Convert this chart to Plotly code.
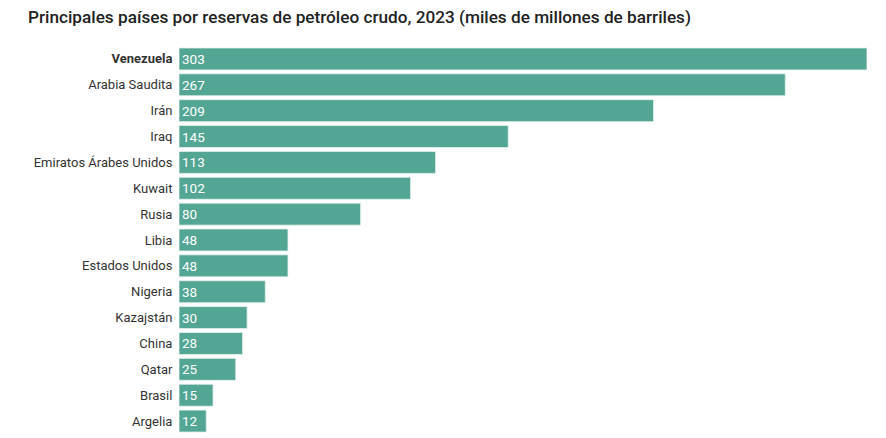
import plotly.graph_objects as go

countries = ["Venezuela", "Arabia Saudita", "Irán", "Iraq", "Emiratos Árabes Unidos",
             "Kuwait", "Rusia", "Libia", "Estados Unidos", "Nigeria", "Kazajstán",
             "China", "Qatar", "Brasil", "Argelia"]
reserves = [303, 267, 209, 145, 113, 102, 80, 48, 48, 38, 30, 28, 25, 15, 12]
title_text = "Principales países por reservas de petróleo crudo, 2023 (miles de millones de barriles)"

tick_labels = [f"<b>{c}</b>" if c == "Venezuela" else c for c in countries]

FONT = "Roboto, Liberation Sans, Arial, sans-serif"

fig = go.Figure(go.Bar(
    x=reserves, y=countries, orientation="h",
    marker=dict(color="#53a693", line=dict(color="#e6f2ef", width=0.8)),
    text=[str(v) for v in reserves], textposition="inside",
    insidetextanchor="start", textangle=0,
    textfont=dict(color="white", size=13.5, family=FONT),
    cliponaxis=False,
    hoverinfo="skip",
))

fig.update_layout(
    width=886, height=438,
    margin=dict(l=179, r=19, t=46, b=4, autoexpand=False),
    paper_bgcolor="white", plot_bgcolor="white",
    bargap=0.15,
    showlegend=False,
    title=dict(text=title_text, x=28/886, xanchor="left", y=1 - 17/438, yanchor="middle",
               font=dict(size=17.2, color="#222222", family=FONT, weight=500)),
    font=dict(family=FONT, color="#333333", size=13),
    xaxis=dict(range=[0, 303], visible=False, fixedrange=True),
    yaxis=dict(categoryorder="array", categoryarray=countries, autorange="reversed",
               tickmode="array", tickvals=countries, ticktext=tick_labels,
               ticks="outside", ticklen=3, tickcolor="rgba(0,0,0,0)",
               showgrid=False, showline=False, zeroline=False, automargin=False,
               fixedrange=True,
               tickfont=dict(size=13, color="#333333", family=FONT)),
)

fig.write_html("out.html", config={"displayModeBar": False},
               post_script="document.body.style.margin='0';document.body.style.overflow='hidden';")
